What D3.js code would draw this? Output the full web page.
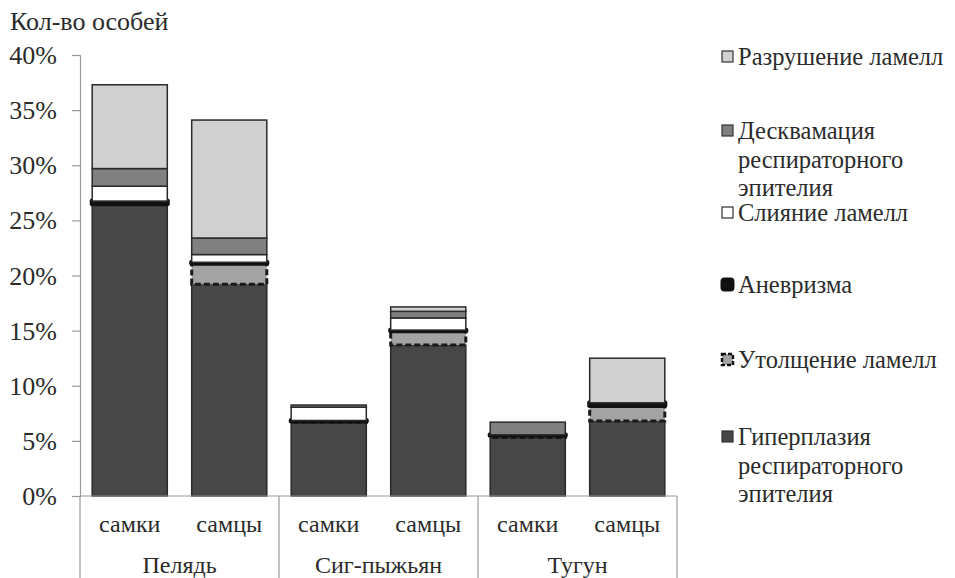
<!DOCTYPE html>
<html>
<head>
<meta charset="utf-8">
<script src="https://cdn.jsdelivr.net/npm/d3@7/dist/d3.min.js"></script>
<style>
  html, body { margin: 0; padding: 0; background: #fff; }
  svg { display: block; }
</style>
</head>
<body>
<svg id="chart" width="955" height="578"></svg>
<script>
// Groups (species) and sub-categories (sex)
const groups = ["Пелядь", "Сиг-пыжьян", "Тугун"];
const sexes = ["самки", "самцы"];

// Share of individuals with each lesion, %, bar order: Пелядь самки, самцы, Сиг самки, самцы, Тугун самки, самцы
const hyperplasia  = [26.5, 19.2, 6.7, 13.7, 5.3, 6.8];
const thickening   = [0.0, 1.9, 0.1, 1.3, 0.2, 1.4];
const aneurysm     = [0.25, 0.1, 0.05, 0.05, 0.05, 0.25];
const fusion       = [1.35, 0.7, 1.2, 1.1, 0.0, 0.0];
const desquamation = [1.6, 1.5, 0.2, 0.6, 1.15, 0.0];
const destruction  = [7.6, 10.7, 0.0, 0.4, 0.0, 4.05];

const seriesNames = [
  "Гиперплазия респираторного эпителия",
  "Утолщение ламелл",
  "Аневризма",
  "Слияние ламелл",
  "Десквамация респираторного эпителия",
  "Разрушение ламелл"
];
const seriesValues = [hyperplasia, thickening, aneurysm, fusion, desquamation, destruction];

const yTicks = [0, 5, 10, 15, 20, 25, 30, 35, 40];
const yTitle = "Кол-во особей";

// Styles per series
const styles = [
  { fill: "#474747", stroke: "#2a2a2a", width: 1.5, dash: null },
  { fill: "#a3a3a3", stroke: "#1a1a1a", width: 3, dash: "6,3" },
  { fill: "#111111", stroke: "#111111", width: 5, dash: null },
  { fill: "#ffffff", stroke: "#2a2a2a", width: 1.5, dash: null },
  { fill: "#808080", stroke: "#2a2a2a", width: 1.5, dash: null },
  { fill: "#d0d0d0", stroke: "#2a2a2a", width: 1.5, dash: null }
];

const FONT = '"Liberation Serif"';
const INK = "#2b2b2b";
const svg = d3.select("#chart");
const plot = { left: 80, right: 677, top: 55, bottom: 496 };

function label(sel, size) {
  return sel.attr("font-family", null).style("font-family", FONT).style("font-size", size + "px").attr("fill", INK);
}

const bars = [];
groups.forEach(g => sexes.forEach(s => bars.push(g + "|" + s)));

const x = d3.scaleBand().domain(bars).range([plot.left, plot.right]).paddingInner(0.245).paddingOuter(0.1225);
const y = d3.scaleLinear().domain([0, 40]).range([plot.bottom, plot.top]);

// Y axis
const yAxis = d3.axisLeft(y).tickValues(yTicks).tickSize(8).tickFormat(d => d + "%");
const gy = svg.append("g").attr("transform", `translate(${plot.left},0)`).call(yAxis);
gy.attr("font-family", null).attr("font-size", null);
gy.select(".domain").attr("stroke", "#9a9a9a").attr("stroke-width", 1.2);
gy.selectAll(".tick line").attr("stroke", "#9a9a9a").attr("stroke-width", 1.2);
label(gy.selectAll(".tick text").attr("x", -23).attr("dy", "0.33em"), 26);

label(svg.append("text").attr("x", 10).attr("y", 30), 26).text(yTitle);

// Stacked bars
const stack = bars.map((b, i) => {
  let base = 0;
  return seriesValues.map((vals, k) => {
    const seg = { bar: b, k, y0: base, y1: base + vals[i] };
    base += vals[i];
    return seg;
  });
});

seriesValues.forEach((vals, k) => {
  const st = styles[k];
  svg.append("g").selectAll("rect")
    .data(stack.map(s => s[k]))
    .join("rect")
    .attr("x", d => x(d.bar))
    .attr("width", x.bandwidth())
    .attr("y", d => y(d.y1))
    .attr("height", d => y(d.y0) - y(d.y1))
    .attr("fill", st.fill)
    .attr("stroke", st.stroke)
    .attr("stroke-width", st.width)
    .attr("stroke-linejoin", k === 2 ? "round" : "miter")
    .attr("stroke-dasharray", st.dash);
});

// X axis baseline and group separators
svg.append("line").attr("x1", plot.left).attr("x2", plot.right)
  .attr("y1", plot.bottom).attr("y2", plot.bottom)
  .attr("stroke", "#9a9a9a").attr("stroke-width", 1.2);

const groupWidth = (plot.right - plot.left) / groups.length;
d3.range(groups.length + 1).forEach(i => {
  const gx = plot.left + i * groupWidth;
  svg.append("line").attr("x1", gx).attr("x2", gx).attr("y1", plot.bottom).attr("y2", 578)
    .attr("stroke", "#9a9a9a").attr("stroke-width", 1.2);
});

label(svg.append("g").selectAll("text").data(bars).join("text")
  .attr("x", d => x(d) + x.bandwidth() / 2)
  .attr("y", 532)
  .attr("text-anchor", "middle"), 24)
  .text(d => d.split("|")[1]);

label(svg.append("g").selectAll("text").data(groups).join("text")
  .attr("x", (d, i) => plot.left + (i + 0.5) * groupWidth)
  .attr("y", 573)
  .attr("text-anchor", "middle"), 24)
  .text(d => d);

// Legend (top to bottom, reversed series order)
const legendRows = [
  { k: 5, y: 57 },
  { k: 4, y: 131 },
  { k: 3, y: 213 },
  { k: 2, y: 285 },
  { k: 1, y: 360 },
  { k: 0, y: 437 }
];
const lg = svg.append("g");
legendRows.forEach(row => {
  const st = styles[row.k];
  const m = lg.append("rect")
    .attr("x", 722).attr("y", row.y - 6).attr("width", 11).attr("height", 11)
    .attr("fill", st.fill).attr("stroke", row.k === 2 ? "#111" : "#333")
    .attr("stroke-width", row.k === 2 ? 3 : 1.2);
  if (row.k === 2) m.attr("rx", 2.5).attr("stroke-linejoin", "round");
  if (row.k === 1) m.attr("stroke", "#111").attr("stroke-width", 2.5).attr("stroke-dasharray", "4,2");
  const words = seriesNames[row.k].split(" ");
  const lines = seriesNames[row.k].includes("респираторного")
    ? [words[0], words[1], words[2]] : [seriesNames[row.k]];
  const t = label(lg.append("text").attr("x", 738).attr("y", row.y), 24.5);
  lines.forEach((ln, i) => {
    t.append("tspan").attr("x", 738).attr("dy", i === 0 ? "0.33em" : "28.5px").text(ln);
  });
});
</script>
</body>
</html>
